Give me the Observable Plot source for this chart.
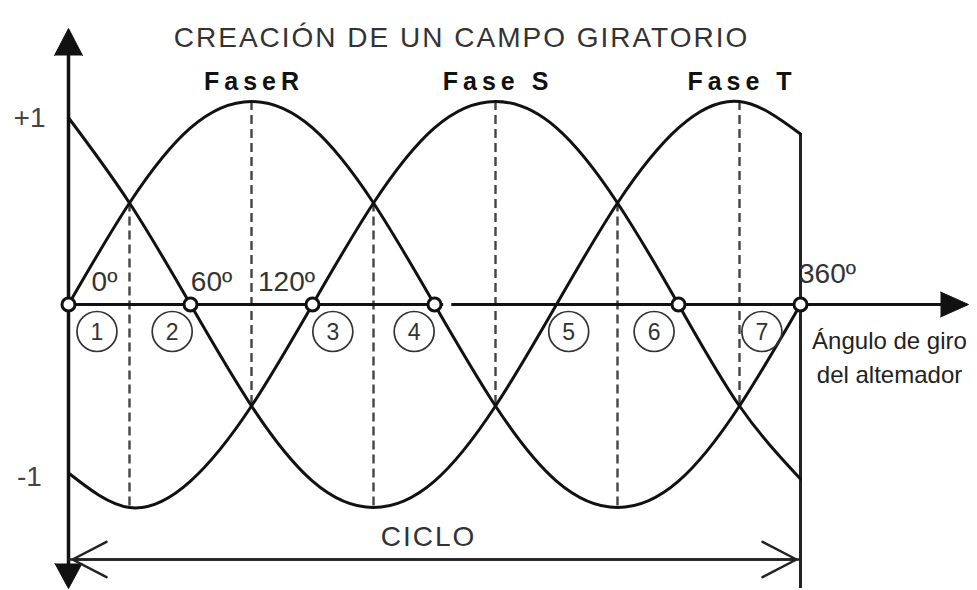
<!DOCTYPE html>
<html>
<head>
<meta charset="utf-8">
<script src="https://cdn.jsdelivr.net/npm/d3@7"></script>
<script src="https://cdn.jsdelivr.net/npm/@observablehq/plot@0.6"></script>
<style>
  body { margin: 0; background: #fff; }
  svg { display: block; }
</style>
</head>
<body>
<div id="chart"></div>
<script>
// ---- data ----
const title = "CREACIÓN DE UN CAMPO GIRATORIO";
const angles = [0, 30, 60, 90, 120, 150, 180, 210, 240, 270, 300, 330, 360];
const faseR = [0, 0.5, 0.87, 1, 0.87, 0.5, 0, -0.5, -0.87, -1, -0.87, -0.5, 0];
const faseS = [-0.83, -1, -0.87, -0.5, 0, 0.5, 0.87, 1, 0.87, 0.5, 0, -0.5, -0.86];
const faseT = [0.92, 0.5, 0, -0.5, -0.87, -1, -0.87, -0.5, 0, 0.5, 0.87, 1, 0.84];
const phaseNames = ["FaseR", "Fase S", "Fase T"];
const phasePeaks = [90, 210, 330];
const crossAngles = [0, 60, 120, 180, 300, 360];
const segmentLabels = ["1", "2", "3", "4", "5", "6", "7"];
const segmentAngles = [14, 51, 130, 170, 246, 288, 341];
const degreeLabels = ["0º", "60º", "120º", "360º"];
const degreeAngles = [0, 60, 120, 360];
const yTickLabels = ["+1", "-1"];
const yTickValues = [0.92, -0.85];
const dashAngles = [30, 90, 150, 210, 270, 330];
const dashTop = [0.5, 1, 0.5, 1, 0.5, 1];
const dashBottom = [-1, -0.5, -1, -0.5, -1, -0.5];
const axisGap = [184.5, 188.5];
const axisLabel = "Ángulo de giro\ndel altemador";
const cycleLabel = "CICLO";

// ---- build table ----
const rows = [];
[faseR, faseS, faseT].forEach((vals, k) =>
  vals.forEach((v, i) => rows.push({phase: phaseNames[k], angle: angles[i], value: v}))
);
const cycleStart = angles[0];
const cycleEnd = angles[angles.length - 1];

const font = "'Liberation Sans', Arial, Helvetica, sans-serif";
const ink = "#111";

// per-label offsets for degree labels (style)
const degreeOffsets = [[36, -22], [21, -22], [-26, -22], [27, -30]];

const spike = {shape: "spike", fill: ink, stroke: ink, strokeWidth: 1, anchor: "end"};

const marks = [
  // dashed guides
  Plot.ruleX(dashAngles, {
    x: d => d, y1: (d, i) => dashTop[i], y2: (d, i) => dashBottom[i],
    stroke: "#444", strokeWidth: 2.4, strokeDasharray: "9,5"
  }),
  // vertical axis
  Plot.ruleX([cycleStart], {insetTop: 45, insetBottom: 15, stroke: ink, strokeWidth: 3.5}),
  Plot.vector([cycleStart], {x: d => d, frameAnchor: "top", dy: 28, rotate: 0, length: 27, r: 14, ...spike}),
  Plot.vector([cycleStart], {x: d => d, frameAnchor: "bottom", dy: -2, rotate: 180, length: 25, r: 13.5, ...spike}),
  // horizontal axis (with a small break)
  Plot.ruleY([0], {x1: cycleStart, x2: axisGap[0], stroke: ink, strokeWidth: 3}),
  Plot.ruleY([0], {x1: axisGap[1], x2: cycleEnd, insetRight: -142, stroke: ink, strokeWidth: 3}),
  Plot.vector([0], {y: d => d, frameAnchor: "right", dx: -9, rotate: 90, length: 28, r: 12.5, ...spike}),
  // end-of-cycle vertical
  Plot.ruleX([cycleEnd], {y1: faseT[faseT.length - 1], y2: -1, insetBottom: -81, stroke: "#222", strokeWidth: 3}),
  // phase curves
  Plot.line(rows, {x: "angle", y: "value", z: "phase", curve: "natural", stroke: ink, strokeWidth: 3}),
  // crossing markers
  Plot.dot(crossAngles, {x: d => d, y: 0, r: 6.5, fill: "white", stroke: ink, strokeWidth: 3}),
  // numbered segment circles
  Plot.dot(segmentAngles, {x: d => d, y: 0, dy: 27, r: 20, fill: "none", stroke: "#333", strokeWidth: 1.7}),
  Plot.text(segmentLabels, {x: (d, i) => segmentAngles[i], y: 0, dy: 28, text: d => d, fontSize: 23, fill: "#333"}),
  // y labels
  Plot.text(yTickLabels, {x: cycleStart, y: (d, i) => yTickValues[i], dx: -39, text: d => d, fontSize: 28, fill: "#444"}),
  // phase names
  Plot.text(phaseNames, {
    x: (d, i) => phasePeaks[i], y: 1, dy: -20, dx: 2.5, text: d => d,
    fontSize: 25, fontWeight: "bold", fill: ink
  }),
  // axis label
  Plot.text([axisLabel], {x: cycleEnd, y: 0, dx: 89, dy: 51, text: d => d, lineAnchor: "middle", lineHeight: 1.4, fontSize: 24, fill: "#222"}),
  // cycle arrows and label
  Plot.arrow([[cycleStart, cycleEnd], [cycleEnd, cycleStart]], {
    x1: d => d[0], x2: d => d[1], y1: -1, y2: -1, dy: 52,
    headLength: 23, headAngle: 55, insetEnd: 4, stroke: "#222", strokeWidth: 2.5
  }),
  Plot.text([cycleLabel], {x: (cycleStart + cycleEnd) / 2, y: -1, dy: 30, dx: -6, text: d => d, fontSize: 28, fill: "#333"}),
  // title
  Plot.text([title], {frameAnchor: "top-left", dx: 461, dy: 27, text: d => d, textAnchor: "middle", fontSize: 28, fill: "#333"})
];

// degree labels with individual offsets
degreeLabels.forEach((lab, i) => {
  marks.push(Plot.text([lab], {
    x: degreeAngles[i], y: 0, dx: degreeOffsets[i][0], dy: degreeOffsets[i][1],
    text: d => d, fontSize: 28, fill: "#333"
  }));
});

const chart = Plot.plot({
  width: 977,
  height: 590,
  margin: 0,
  x: {domain: [cycleStart, cycleEnd], range: [68, 800], axis: null},
  y: {domain: [-1, 1], range: [507, 101], axis: null},
  style: {fontFamily: font, background: "white"},
  marks
});

// letter spacing by text content (style only)
const spacing = new Map([[title, "2px"], [cycleLabel, "2px"]]);
phaseNames.forEach(n => spacing.set(n, "5px"));
d3.select(chart).selectAll("text").each(function () {
  const s = spacing.get(this.textContent);
  if (s) d3.select(this).style("letter-spacing", s);
});

document.getElementById("chart").appendChild(chart);
</script>
</body>
</html>
